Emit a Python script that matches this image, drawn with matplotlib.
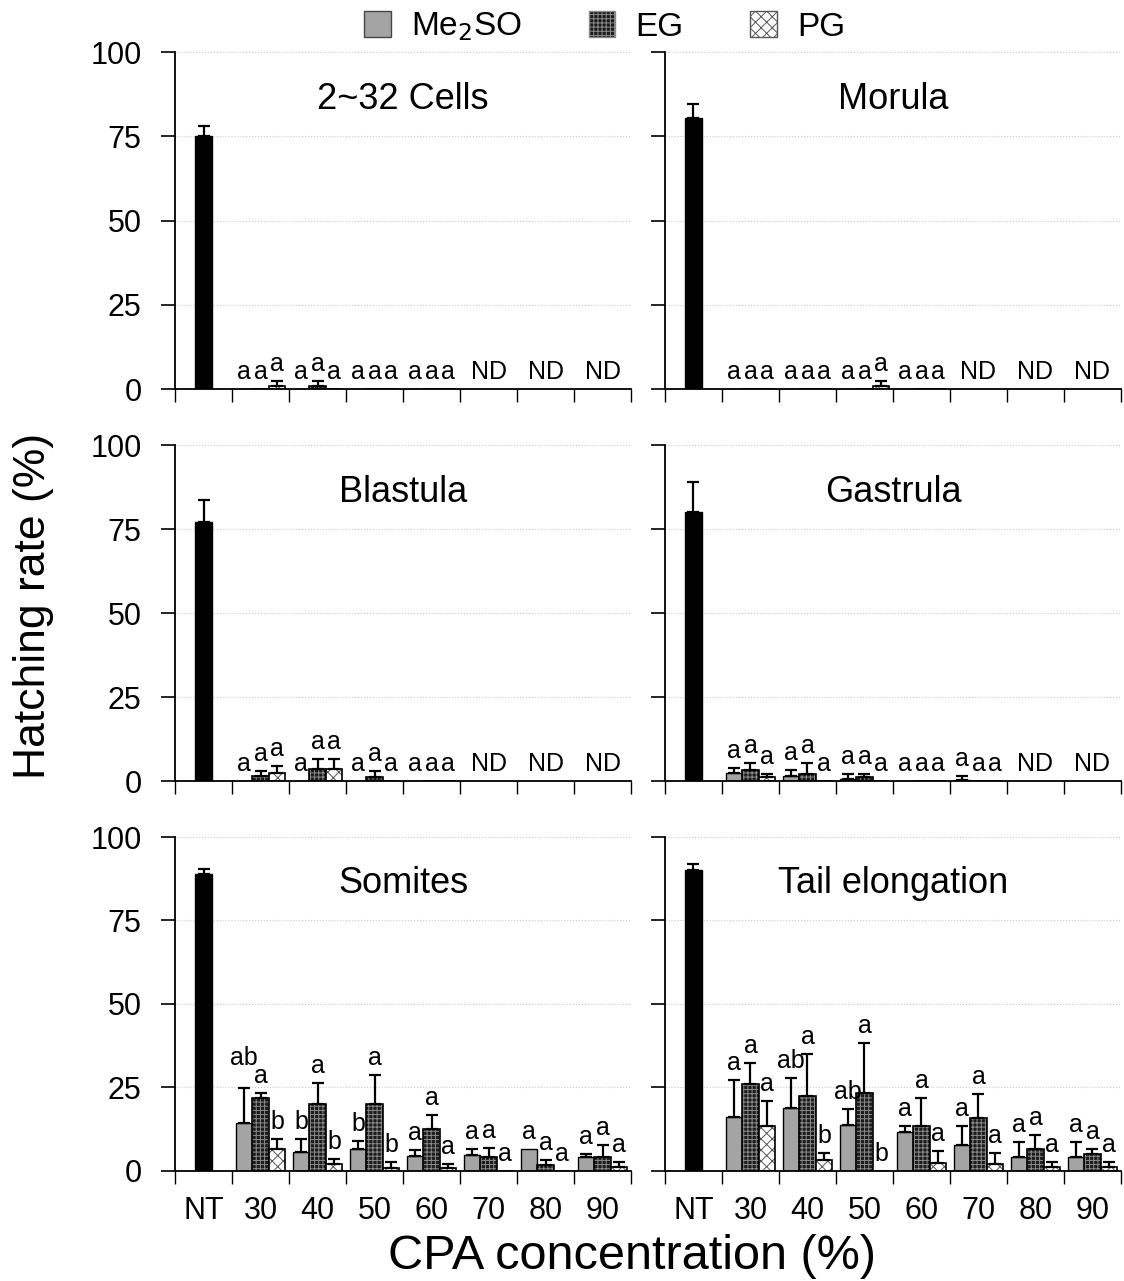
import numpy as np
import matplotlib
matplotlib.use("Agg")
import matplotlib.pyplot as plt
from matplotlib.patches import Patch

plt.rcParams['font.family'] = ['Liberation Sans', 'DejaVu Sans']
plt.rcParams['hatch.linewidth'] = 0.7

categories = ["NT", "30", "40", "50", "60", "70", "80", "90"]
stages = ["2~32 Cells", "Morula", "Blastula", "Gastrula", "Somites", "Tail elongation"]

# non-treated control (mean, SD)
nt_mean = [75.0, 80.5, 77.0, 80.0, 89.0, 90.0]
nt_sd = [3.0, 4.0, 6.5, 9.0, 1.5, 2.0]

# CPA groups 30..90 %, nan = not determined (ND)
nd = np.nan
me_mean = [
    [0, 0, 0, 0, nd, nd, nd],
    [0, 0, 0, 0, nd, nd, nd],
    [0, 0, 0, 0, nd, nd, nd],
    [2.3, 1.6, 0.7, 0, 0.2, nd, nd],
    [14.4, 5.7, 6.7, 4.6, 4.9, 6.7, 4.2],
    [16.3, 19.0, 13.8, 11.7, 7.8, 4.3, 4.3],
]
me_sd = [
    [0, 0, 0, 0, nd, nd, nd],
    [0, 0, 0, 0, nd, nd, nd],
    [0, 0, 0, 0, nd, nd, nd],
    [1.5, 1.7, 1.4, 0, 1.3, nd, nd],
    [10.3, 3.8, 2.3, 1.6, 1.7, 0, 0.8],
    [10.9, 8.8, 4.7, 1.8, 5.7, 4.4, 4.4],
]
eg_mean = [
    [0, 1.0, 0, 0, nd, nd, nd],
    [0, 0, 0, 0, nd, nd, nd],
    [1.5, 3.6, 1.2, 0, nd, nd, nd],
    [3.3, 2.2, 1.1, 0, 0, nd, nd],
    [21.9, 20.0, 20.0, 12.7, 4.3, 1.7, 4.3],
    [26.0, 22.5, 23.3, 13.5, 15.8, 6.6, 5.1],
]
eg_sd = [
    [0, 1.5, 0, 0, nd, nd, nd],
    [0, 0, 0, 0, nd, nd, nd],
    [1.5, 2.9, 1.8, 0, nd, nd, nd],
    [2.2, 3.1, 1.1, 0, 0, nd, nd],
    [1.5, 6.2, 8.7, 4.1, 2.6, 1.5, 3.4],
    [6.2, 12.4, 15.1, 8.3, 7.2, 4.2, 1.5],
]
pg_mean = [
    [1.0, 0, 0, 0, nd, nd, nd],
    [0, 0, 1.0, 0, nd, nd, nd],
    [2.4, 3.6, 0, 0, nd, nd, nd],
    [1.1, 0, 0, 0, 0, nd, nd],
    [6.7, 2.2, 1.0, 1.0, 0, 0, 1.3],
    [13.5, 3.2, 0, 2.5, 2.2, 1.2, 1.2],
]
pg_sd = [
    [1.5, 0, 0, 0, nd, nd, nd],
    [0, 0, 1.5, 0, nd, nd, nd],
    [2.1, 2.9, 0, 0, nd, nd, nd],
    [0.9, 0, 0, 0, 0, nd, nd],
    [2.8, 1.5, 1.7, 1.2, 0, 0, 1.4],
    [7.3, 2.3, 0, 3.5, 3.1, 1.5, 1.5],
]

# significance letters per group (Me2SO, EG, PG)
letters = [
    ["aaa", "aaa", "aaa", "aaa", "", "", ""],
    ["aaa", "aaa", "aaa", "aaa", "", "", ""],
    ["aaa", "aaa", "aaa", "aaa", "", "", ""],
    ["aaa", "aaa", "aaa", "aaa", "aaa", "", ""],
    [["ab", "a", "b"], ["b", "a", "b"], ["b", "a", "b"], "aaa", "aaa", "aaa", "aaa"],
    ["aaa", ["ab", "a", "b"], ["ab", "a", "b"], "aaa", "aaa", "aaa", "aaa"],
]

series = [
    ("Me$_2$SO", me_mean, me_sd, dict(facecolor="#a4a4a4", hatch=None, hcolor=None)),
    ("EG", eg_mean, eg_sd, dict(facecolor="#1c1c1c", hatch="++++", hcolor="#8a8a8a")),
    ("PG", pg_mean, pg_sd, dict(facecolor="white", hatch="xxx", hcolor="#555555")),
]

fig = plt.figure(figsize=(11.24, 12.81), dpi=100)

left_x = [0.1557, 0.5916]
rows_y = [(0.6963, 0.2631), (0.3903, 0.2623), (0.0859, 0.2607)]
w = 0.4057
bw = 0.29
gap = 1.5

for i, stage in enumerate(stages):
    r, c = divmod(i, 2)
    ax = fig.add_axes([left_x[c], rows_y[r][0], w, rows_y[r][1]])
    ax.set_xlim(0, 8)
    ax.set_ylim(0, 100)
    ax.set_axisbelow(True)
    ax.yaxis.grid(True, linestyle=":", color="#c8c8c8", linewidth=0.8)

    # control bar
    ax.bar(0.5, nt_mean[i], width=0.3, color="black", edgecolor="black")
    ax.errorbar(0.5, nt_mean[i], yerr=[[0], [nt_sd[i]]], fmt="none",
                ecolor="black", elinewidth=1.6, capsize=4, capthick=1.6)

    centers = np.arange(1, 8) + 0.5
    tops = []
    for k, (name, mean, sd, sty) in enumerate(series):
        xs = centers + (k - 1) * bw
        m = np.array(mean[i], dtype=float)
        s = np.array(sd[i], dtype=float)
        ok = ~np.isnan(m)
        if sty["hatch"]:
            ax.bar(xs[ok], m[ok], width=bw, facecolor=sty["facecolor"],
                   hatch=sty["hatch"], edgecolor=sty["hcolor"], linewidth=0)
            ax.bar(xs[ok], m[ok], width=bw, fill=False, edgecolor="black", linewidth=1.2)
        else:
            ax.bar(xs[ok], m[ok], width=bw, facecolor=sty["facecolor"],
                   edgecolor="black", linewidth=1.0)
        has_err = ok & (np.nan_to_num(s) > 0)
        ax.errorbar(xs[has_err], m[has_err], yerr=[np.zeros(has_err.sum()), s[has_err]],
                    fmt="none", ecolor="black", elinewidth=1.6, capsize=4, capthick=1.6)
        tops.append(m + np.nan_to_num(s))

    # letters above each bar; a two-letter label is lifted clear of its right neighbour
    for g in range(7):
        if np.isnan(me_mean[i][g]):
            ax.text(centers[g], gap, "ND", ha="center", va="bottom", fontsize=18)
            continue
        for k in range(3):
            lab = letters[i][g][k]
            y = tops[k][g] + gap
            if len(lab) > 1 and k < 2 and abs(y - (tops[k + 1][g] + gap)) < 3:
                y = max(y, tops[k + 1][g] + gap) + 4
            ax.text(centers[g] + (k - 1) * bw, y, lab, ha="center", va="bottom",
                    fontsize=18)

    ax.text(0.5, 0.86, stage, transform=ax.transAxes, ha="center", va="center",
            fontsize=26)

    for side in ["top", "right"]:
        ax.spines[side].set_visible(False)
    ax.spines["left"].set_linewidth(1.3)
    ax.spines["bottom"].set_linewidth(1.3)

    ax.set_yticks([0, 25, 50, 75, 100])
    ax.tick_params(axis="y", direction="out", length=10, width=1.2, pad=14, labelsize=22)
    if c == 1:
        ax.tick_params(axis="y", labelleft=False)

    ax.set_xticks(np.arange(0, 9))
    ax.tick_params(axis="x", which="major", direction="out", length=9, width=1.0,
                   labelbottom=False)
    ax.set_xticks(np.arange(8) + 0.5, minor=True)
    if r == 2:
        ax.set_xticklabels(categories, minor=True)
        ax.tick_params(axis="x", which="minor", length=0, pad=18, labelsize=22)
    else:
        ax.tick_params(axis="x", which="minor", length=0, labelbottom=False)

fig.text(0.030, 0.527, "Hatching rate (%)", rotation=90, ha="center", va="center",
         fontsize=32)
fig.text(0.562, 0.0095, "CPA concentration (%)", ha="center", va="baseline", fontsize=35)

handles = [
    Patch(facecolor="#a4a4a4", edgecolor="#444444", label="Me$_2$SO"),
    Patch(facecolor="#1c1c1c", edgecolor="#8a8a8a", hatch="++++", label="EG"),
    Patch(facecolor="white", edgecolor="#555555", hatch="xxx", label="PG"),
]
fig.legend(handles=handles, loc="center", bbox_to_anchor=(0.538, 0.979), ncol=3,
           frameon=False, fontsize=24, handlelength=0.8, handleheight=0.8,
           handletextpad=0.6, columnspacing=2.0)

fig.savefig("out.png", dpi=100)
